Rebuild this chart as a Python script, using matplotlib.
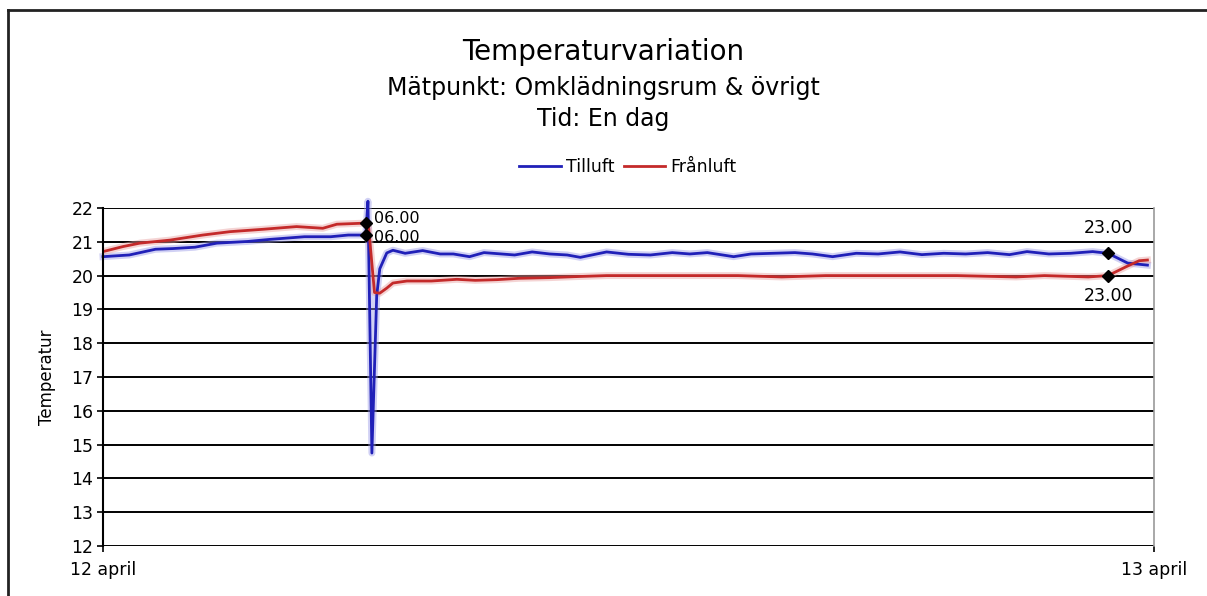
import matplotlib
matplotlib.use("Agg")
import matplotlib.pyplot as plt
from matplotlib.lines import Line2D

# --- data (hours after 12 april 00:00) ---
t_tilluft = [0, 0.6, 1.2, 1.6, 2.1, 2.6, 3.3, 3.8, 4.6, 5.2, 5.6, 6.0, 6.05, 6.14,
             6.25, 6.32, 6.48, 6.62, 6.9, 7.3, 7.7, 8.0, 8.37, 8.7, 9.1, 9.4, 9.8,
             10.2, 10.6, 10.9, 11.5, 12.0, 12.5, 13.0, 13.4, 13.8, 14.4, 14.8, 15.3,
             15.8, 16.2, 16.66, 17.2, 17.7, 18.2, 18.7, 19.2, 19.7, 20.2, 20.7, 21.1,
             21.6, 22.1, 22.6, 22.95, 23.4, 23.85]
tilluft = [20.56, 20.61, 20.78, 20.80, 20.84, 20.96, 21.01, 21.07, 21.15, 21.15, 21.20,
           21.20, 22.2, 14.75, 19.4, 20.2, 20.67, 20.75, 20.66, 20.74, 20.64, 20.64,
           20.56, 20.68, 20.64, 20.61, 20.70, 20.64, 20.61, 20.54, 20.70, 20.63, 20.61,
           20.68, 20.64, 20.68, 20.56, 20.64, 20.66, 20.68, 20.64, 20.56, 20.66, 20.64,
           20.70, 20.62, 20.66, 20.64, 20.68, 20.62, 20.71, 20.64, 20.66, 20.71, 20.66,
           20.37, 20.31]

t_franluft = [0, 0.46, 0.84, 1.53, 2.28, 2.9, 3.65, 4.42, 5.02, 5.34, 5.93, 6.0, 6.06,
              6.2, 6.32, 6.48, 6.62, 6.94, 7.5, 8.08, 8.5, 9.0, 9.5, 10.2, 10.8, 11.5,
              12.5, 13.5, 14.5, 15.5, 16.5, 17.5, 18.5, 19.5, 20.85, 21.5, 22.5, 22.95,
              23.36, 23.66, 23.85]
franluft = [20.71, 20.86, 20.96, 21.05, 21.20, 21.30, 21.37, 21.45, 21.40, 21.52, 21.55,
            21.55, 21.50, 19.50, 19.48, 19.63, 19.78, 19.84, 19.84, 19.89, 19.86, 19.88,
            19.92, 19.94, 19.97, 20.0, 20.0, 20.0, 20.0, 19.96, 20.0, 20.0, 20.0, 20.0,
            19.96, 20.0, 19.96, 20.0, 20.26, 20.44, 20.46]

markers = [6.0, 22.95]
marker_labels = ["06.00", "23.00"]
y_ticks = list(range(12, 23))
x_ticks = [0, 24]
x_ticklabels = ["12 april", "13 april"]

BLUE = "#2020b8"
RED = "#c42a2a"

fig = plt.figure(figsize=(12.07, 5.96), dpi=100)
ax = fig.add_axes([103 / 1207, 1 - 546 / 596, 1051 / 1207, 338 / 596])

# soft halo like the original export, then the line itself
ax.plot(t_tilluft, tilluft, color="#9a9ae8", lw=5, alpha=0.45, clip_on=False,
        solid_joinstyle="round")
ax.plot(t_franluft, franluft, color="#e8a0a0", lw=5, alpha=0.45,
        solid_joinstyle="round")
ax.plot(t_tilluft, tilluft, color=BLUE, lw=2.0, label="Tilluft", clip_on=False)
ax.plot(t_franluft, franluft, color=RED, lw=2.0, label="Frånluft")

# diamond markers with time labels
i6b = t_tilluft.index(markers[0])
i6r = t_franluft.index(markers[0])
i23b = t_tilluft.index(markers[1])
i23r = t_franluft.index(markers[1])
for tx, ty in [(t_tilluft[i6b], tilluft[i6b]), (t_franluft[i6r], franluft[i6r]),
               (t_tilluft[i23b], tilluft[i23b]), (t_franluft[i23r], franluft[i23r])]:
    ax.plot(tx, ty, marker="D", color="black", ms=6, zorder=5)

ax.annotate(marker_labels[0], (t_franluft[i6r], franluft[i6r]), xytext=(6, 3.5),
            textcoords="offset points", fontsize=11.5, va="center", ha="left")
ax.annotate(marker_labels[0], (t_tilluft[i6b], tilluft[i6b]), xytext=(6, -2),
            textcoords="offset points", fontsize=11.5, va="center", ha="left")
ax.annotate(marker_labels[1], (t_tilluft[i23b], tilluft[i23b]), xytext=(0, 18.5),
            textcoords="offset points", fontsize=12.5, va="center", ha="center")
ax.annotate(marker_labels[1], (t_franluft[i23r], franluft[i23r]), xytext=(0, -14.5),
            textcoords="offset points", fontsize=12.5, va="center", ha="center")

ax.set_xlim(0, 24)
ax.set_ylim(12, 22)
ax.set_yticks(y_ticks)
ax.set_xticks(x_ticks)
ax.set_xticklabels(x_ticklabels)
ax.tick_params(axis="both", labelsize=12.5, direction="out", length=4, width=1.2)
ax.tick_params(axis="x", pad=7)
ax.tick_params(axis="y", pad=3)
ax.grid(axis="y", color="black", lw=1.4)
ax.set_axisbelow(True)
for s in ["top", "bottom"]:
    ax.spines[s].set_visible(False)
ax.spines["left"].set_linewidth(1.5)
ax.spines["right"].set_color("#999999")
ax.spines["right"].set_linewidth(1.2)
ax.set_ylabel("Temperatur", fontsize=12, labelpad=11)

# titles
fig.text(0.5, 1 - 52 / 596, "Temperaturvariation", ha="center", va="center", fontsize=20)
fig.text(0.5, 1 - 88 / 596, "Mätpunkt: Omklädningsrum & övrigt", ha="center",
         va="center", fontsize=17)
fig.text(0.5, 1 - 119 / 596, "Tid: En dag", ha="center", va="center", fontsize=17)

fig.legend(loc="center", bbox_to_anchor=(628 / 1207, 1 - 167 / 596), ncol=2,
           frameon=False, fontsize=12.5, handlelength=2.4, columnspacing=0.5,
           handletextpad=0.3)

# outer frame (left and top edges only)
fig.add_artist(Line2D([7.5 / 1207, 7.5 / 1207], [0, 1 - 10 / 596], color="#222222",
                      lw=2, transform=fig.transFigure))
fig.add_artist(Line2D([7.5 / 1207, 1], [1 - 10 / 596, 1 - 10 / 596], color="#222222",
                      lw=2, transform=fig.transFigure))

fig.savefig("out.png", dpi=100)
